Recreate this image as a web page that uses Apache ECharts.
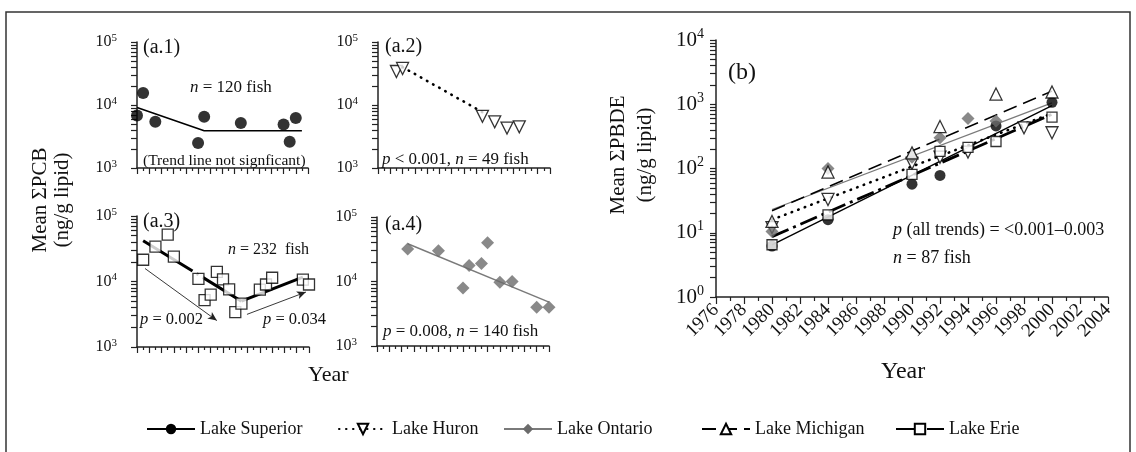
<!DOCTYPE html>
<html>
<head>
<meta charset="utf-8">
<script src="https://cdn.jsdelivr.net/npm/echarts@6/dist/echarts.min.js"></script>
<style>
  html, body { margin: 0; background: #fff; }
  #chart { width: 1136px; height: 452px; }
</style>
</head>
<body>
<div id="chart"></div>
<script>
// ---- (a) mean sum PCB, ng/g lipid ----
// (a.1) Lake Superior
const supPcbYears = [1976, 1977, 1979, 1986, 1987, 1993, 2000, 2001, 2002];
const supPcb = [6800, 15500, 5400, 2500, 6500, 5200, 4900, 2600, 6200];
const supPcbTrendYears = [1976, 1987, 2003];
const supPcbTrend = [9100, 3900, 3900];
// (a.2) Lake Huron
const hurPcbYears = [1979, 1980, 1993, 1995, 1997, 1999];
const hurPcb = [34000, 38000, 6600, 5400, 4300, 4500];
const hurPcbTrendYears = [1980, 1993];
const hurPcbTrend = [40000, 7700];
// (a.3) Lake Erie
const eriPcbYears = [1977, 1979, 1981, 1982, 1986, 1987, 1988, 1989, 1990, 1991, 1992, 1993, 1996, 1997, 1998, 2003, 2004];
const eriPcb = [21500, 34000, 52000, 24000, 11000, 5200, 6300, 14000, 10800, 7600, 3400, 4600, 7500, 9000, 11400, 10700, 9000];
const eriPcbDownYears = [1977, 1993];
const eriPcbDown = [42000, 5000];
const eriPcbUpYears = [1993, 2003];
const eriPcbUp = [5000, 11700];
const eriArrowDown = [[1977.3, 15800], [1989, 2530]];
const eriArrowUp = [[1993.9, 3150], [2003.5, 6900]];
// (a.4) Lake Ontario
const ontPcbYears = [1981, 1986, 1990, 1991, 1993, 1994, 1996, 1998, 2002, 2004];
const ontPcb = [32000, 30000, 7900, 17700, 19000, 40000, 9700, 10000, 4000, 4000];
const ontPcbTrendYears = [1981, 2004];
const ontPcbTrend = [38500, 4800];

// ---- (b) mean sum PBDE, ng/g lipid ----
const supPbdeYears = [1980, 1984, 1990, 1992, 1996, 2000];
const supPbde = [6.2, 16, 57, 78, 460, 1070];
const hurPbdeYears = [1980, 1984, 1990, 1992, 1994, 1998, 2000];
const hurPbde = [12, 33, 120, 150, 180, 430, 360];
const ontPbdeYears = [1980, 1984, 1990, 1992, 1994, 1996];
const ontPbde = [10.5, 100, 150, 300, 600, 550];
const micPbdeYears = [1980, 1984, 1990, 1992, 1996, 2000];
const micPbde = [15, 88, 175, 450, 1440, 1550];
const eriPbdeYears = [1980, 1984, 1990, 1992, 1994, 1996, 2000];
const eriPbde = [6.5, 19, 81, 185, 213, 263, 630];
const trendYears = [1980, 2000];
const supTrend = [6.5, 950];
const hurTrend = [16, 720];
const ontTrend = [23, 1050];
const micTrend = [22, 1600];
const eriTrend = [8.7, 700];

const lakes = ['Lake Superior', 'Lake Huron', 'Lake Ontario', 'Lake Michigan', 'Lake Erie'];
const pcbLabelTicks = [1000, 10000, 100000];
const pbdeLabelTicks = [1, 10, 100, 1000, 10000];

const FONT = 'Liberation Serif';
const INK = '#111';
const TRI_DOWN = 'path://M0,0L12,0L6,11Z';

// minor ticks at 1..9 x 10^k
function logTicks(fromExp, toExp) {
  const out = [];
  for (let e = fromExp; e < toExp; e++) {
    for (let m = 1; m < 10; m++) out.push(m * Math.pow(10, e));
  }
  out.push(Math.pow(10, toExp));
  return out;
}
const pts = (xs, ys) => xs.map((x, i) => [x, ys[i]]);
const expLabel = v => '{b|10}{e|' + Math.round(Math.log10(v)) + '}';

const styles = {
  sup: { symbol: 'circle', item: { color: '#000' }, line: { color: '#000', width: 1.4, type: 'solid' } },
  hur: { symbol: TRI_DOWN, item: { color: '#fff', borderColor: '#000', borderWidth: 1.3 },
         line: { color: '#000', width: 2.6, type: [0.5, 6.5], cap: 'round' } },
  ont: { symbol: 'diamond', item: { color: '#6b6b6b' }, line: { color: '#7a7a7a', width: 1.3, type: 'solid' } },
  mic: { symbol: 'triangle', item: { color: '#fff', borderColor: '#000', borderWidth: 1.3 },
         line: { color: '#000', width: 1.4, type: [14, 7] } },
  eri: { symbol: 'rect', item: { color: '#fff', borderColor: '#000', borderWidth: 1.3 },
         line: { color: '#000', width: 2.8, type: [18, 5, 3, 5] } }
};

const axisLine = { color: '#222', width: 1.5 };
const tickLine = { color: '#222', width: 1.2 };

const grids = [
  { left: 137, top: 42, width: 171, height: 126 },
  { left: 378, top: 42, width: 172, height: 126 },
  { left: 137, top: 216, width: 172, height: 131 },
  { left: 377, top: 217, width: 172, height: 129 },
  { left: 716, top: 40, width: 392, height: 257 }
].map(g => Object.assign({ containLabel: false }, g));

const xAxes = [0, 1, 2, 3].map(i => ({
  gridIndex: i, type: 'value', min: 1976, max: 2004, interval: 2,
  axisLine: { onZero: false, lineStyle: axisLine },
  axisTick: { show: true, length: 6, lineStyle: tickLine },
  minorTick: { show: true, splitNumber: 2, length: 3, lineStyle: tickLine },
  axisLabel: { show: false },
  splitLine: { show: false }
}));
xAxes.push({
  gridIndex: 4, type: 'value', min: 1976, max: 2004, interval: 2,
  axisLine: { onZero: false, lineStyle: axisLine },
  axisTick: { show: true, length: 7, lineStyle: tickLine },
  minorTick: { show: true, splitNumber: 2, length: 4, lineStyle: tickLine },
  axisLabel: { rotate: 45, interval: 0, margin: 10, fontSize: 19, fontFamily: FONT, color: INK,
               formatter: v => String(v) },
  splitLine: { show: false }
});

const yAxes = [0, 1, 2, 3].map(i => ({
  gridIndex: i, type: 'log', logBase: 10, min: 1000, max: 100000,
  axisLine: { show: true, onZero: false, lineStyle: axisLine },
  axisTick: { show: true, length: 6, customValues: logTicks(3, 5), lineStyle: tickLine },
  axisLabel: {
    customValues: pcbLabelTicks, margin: 20, formatter: expLabel,
    rich: {
      b: { fontSize: 16, fontFamily: FONT, color: INK, lineHeight: 19 },
      e: { fontSize: 11, fontFamily: FONT, color: INK, verticalAlign: 'top' }
    }
  },
  splitLine: { show: false }
}));
yAxes.push({
  gridIndex: 4, type: 'log', logBase: 10, min: 1, max: 10000,
  axisLine: { show: true, onZero: false, lineStyle: axisLine },
  axisTick: { show: true, length: 6, customValues: logTicks(0, 4), lineStyle: tickLine },
  axisLabel: {
    customValues: pbdeLabelTicks, margin: 12, formatter: expLabel,
    rich: {
      b: { fontSize: 21, fontFamily: FONT, color: INK, lineHeight: 26 },
      e: { fontSize: 14, fontFamily: FONT, color: INK, verticalAlign: 'top' }
    }
  },
  splitLine: { show: false }
});

function scatter(name, st, grid, data, size) {
  return {
    name, type: 'scatter', xAxisIndex: grid, yAxisIndex: grid, data,
    symbol: st.symbol, symbolSize: size, itemStyle: st.item, z: 4, silent: true
  };
}
function trend(name, st, grid, data, lineOverride) {
  return {
    name, type: 'line', xAxisIndex: grid, yAxisIndex: grid, data,
    symbol: st.symbol, symbolSize: 11, showSymbol: false, itemStyle: st.item,
    lineStyle: Object.assign({}, st.line, lineOverride || {}), z: 3, silent: true, animation: false
  };
}

const series = [
  // panel (b) trend lines carry the legend names
  trend('Lake Superior', styles.sup, 4, pts(trendYears, supTrend)),
  trend('Lake Huron', styles.hur, 4, pts(trendYears, hurTrend)),
  trend('Lake Ontario', styles.ont, 4, pts(trendYears, ontTrend)),
  trend('Lake Michigan', styles.mic, 4, pts(trendYears, micTrend)),
  trend('Lake Erie', styles.eri, 4, pts(trendYears, eriTrend)),
  scatter('Superior PBDE', styles.sup, 4, pts(supPbdeYears, supPbde), 11),
  scatter('Huron PBDE', styles.hur, 4, pts(hurPbdeYears, hurPbde), 12),
  scatter('Ontario PBDE', styles.ont, 4, pts(ontPbdeYears, ontPbde), 13),
  scatter('Michigan PBDE', styles.mic, 4, pts(micPbdeYears, micPbde), 12),
  scatter('Erie PBDE', styles.eri, 4, pts(eriPbdeYears, eriPbde), 10),

  // (a.1)
  trend('Superior PCB trend', styles.sup, 0, pts(supPcbTrendYears, supPcbTrend), { width: 1.6 }),
  scatter('Superior PCB', styles.sup, 0, pts(supPcbYears, supPcb), 12),
  // (a.2)
  trend('Huron PCB trend', styles.hur, 1, pts(hurPcbTrendYears, hurPcbTrend)),
  scatter('Huron PCB', styles.hur, 1, pts(hurPcbYears, hurPcb), 12),
  // (a.3)
  trend('Erie PCB down', styles.eri, 2, pts(eriPcbDownYears, eriPcbDown), { width: 3, type: [58, 5, 2, 5] }),
  trend('Erie PCB up', styles.eri, 2, pts(eriPcbUpYears, eriPcbUp), { width: 3, type: 'solid' }),
  Object.assign(scatter('Erie PCB', styles.eri, 2, pts(eriPcbYears, eriPcb), 11), {
    markLine: {
      silent: true, animation: false, symbol: ['none', 'arrow'], symbolSize: [6, 9],
      label: { show: false },
      lineStyle: { color: '#222', width: 0.9, type: 'solid' },
      data: [
        [{ coord: eriArrowDown[0] }, { coord: eriArrowDown[1] }],
        [{ coord: eriArrowUp[0] }, { coord: eriArrowUp[1] }]
      ]
    }
  }),
  // (a.4)
  trend('Ontario PCB trend', styles.ont, 3, pts(ontPcbTrendYears, ontPcbTrend), { width: 1.4 }),
  scatter('Ontario PCB', styles.ont, 3, pts(ontPcbYears, ontPcb), 13)
];

function txt(x, y, text, size, extra) {
  return Object.assign({
    type: 'text', x, y, silent: true, z: 10,
    style: {
      text, fontSize: size, fontFamily: FONT, fill: INK,
      align: 'left', verticalAlign: 'middle', textAlign: 'left', textVerticalAlign: 'middle',
      rich: { i: { fontStyle: 'italic', fontSize: size, fontFamily: FONT, fill: INK } }
    }
  }, extra || {});
}
function vtxt(x, y, text, size) {
  const t = txt(x, y, text, size, { rotation: Math.PI / 2 });
  t.style.align = t.style.textAlign = 'center';
  return t;
}

const graphics = [
  { type: 'rect', silent: true, shape: { x: 6, y: 12, width: 1124, height: 460 },
    style: { fill: 'none', stroke: '#333', lineWidth: 1.5 } },
  txt(143, 48, '(a.1)', 20),
  txt(385, 47, '(a.2)', 20),
  txt(143, 222, '(a.3)', 20),
  txt(385, 225, '(a.4)', 20),
  txt(728, 73, '(b)', 24),
  txt(190, 88, '{i|n} = 120 fish', 17),
  txt(143, 161, '(Trend line not signficant)', 15.5),
  txt(382, 160, '{i|p} < 0.001, {i|n} = 49 fish', 17),
  txt(228, 250, '{i|n} = 232  fish', 16),
  txt(140, 320, '{i|p} = 0.002', 16.5),
  txt(263, 320, '{i|p} = 0.034', 16.5),
  txt(383, 332, '{i|p} = 0.008, {i|n} = 140 fish', 17),
  txt(893, 230, '{i|p} (all trends) = <0.001\u20130.003', 18),
  txt(893, 258, '{i|n} = 87 fish', 18),
  txt(308, 375, 'Year', 22),
  txt(881, 372, 'Year', 24),
  vtxt(40, 200, 'Mean \u03A3PCB', 21),
  vtxt(62, 200, '(ng/g lipid)', 21),
  vtxt(618, 155, 'Mean \u03A3PBDE', 21),
  vtxt(645, 155, '(ng/g lipid)', 21)
];

const legendLefts = [141, 333, 498, 696, 890];
const legends = lakes.map((name, i) => ({
  data: [name], left: legendLefts[i], top: 415, orient: 'horizontal',
  itemWidth: 48, itemHeight: 13, itemGap: 0, selectedMode: false,
  textStyle: { fontFamily: FONT, fontSize: 18, color: INK }
}));

const chart = echarts.init(document.getElementById('chart'), null, { renderer: 'canvas' });
chart.setOption({
  animation: false,
  backgroundColor: '#fff',
  textStyle: { fontFamily: FONT },
  grid: grids,
  xAxis: xAxes,
  yAxis: yAxes,
  legend: legends,
  series,
  graphic: graphics
});
</script>
</body>
</html>
